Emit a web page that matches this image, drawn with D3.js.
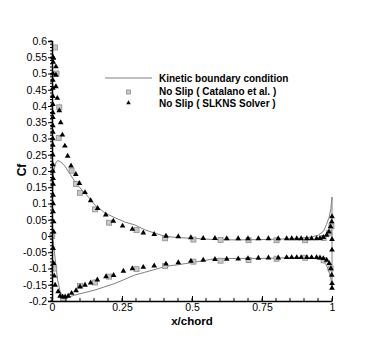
<!DOCTYPE html>
<html>
<head>
<meta charset="utf-8">
<script src="https://cdn.jsdelivr.net/npm/d3@7"></script>
<style>
  body { margin: 0; background: #fff; }
  text { font-family: "Liberation Sans", Arial, sans-serif; }
</style>
</head>
<body>
<div id="chart"></div>
<script>
// kinetic boundary condition line, upper surface LE -> TE then lower TE -> LE
const kineticX = [0, 0.002, 0.005, 0.01, 0.015, 0.02, 0.03, 0.046, 0.065, 0.082, 0.1, 0.118, 0.154, 0.189, 0.225, 0.26, 0.296, 0.332, 0.37, 0.404, 0.45, 0.5, 0.58, 0.66, 0.75, 0.83, 0.91, 0.95, 0.97, 0.98, 0.99, 0.996, 1.0,
  1.0, 0.995, 0.98, 0.96, 0.91, 0.83, 0.75, 0.66, 0.58, 0.5, 0.404, 0.33, 0.296, 0.225, 0.154, 0.081, 0.052, 0.04, 0.029, 0.02, 0.013, 0.008, 0.004, 0]
const kineticCf = [0, 0.12, 0.19, 0.215, 0.227, 0.232, 0.229, 0.215, 0.19, 0.167, 0.148, 0.132, 0.095, 0.071, 0.056, 0.043, 0.034, 0.019, 0.008, -0.001, -0.005, -0.007, -0.011, -0.012, -0.011, -0.009, -0.006, 0.002, 0.015, 0.035, 0.058, 0.085, 0.12,
  -0.156, -0.125, -0.089, -0.072, -0.066, -0.067, -0.069, -0.069, -0.07, -0.082, -0.094, -0.112, -0.12, -0.146, -0.166, -0.182, -0.19, -0.187, -0.171, -0.135, -0.084, -0.043, -0.015, 0]

// No Slip (Catalano et al.)
const catalanoX = [0.011, 0.016, 0.026, 0.024, 0.07, 0.086, 0.1, 0.154, 0.204, 0.302, 0.404, 0.505, 0.602, 0.702, 0.802, 0.904, 0.97, 0.99, 0.998,
  0.001, 0.008, 0.04, 0.1, 0.154, 0.204, 0.302, 0.404, 0.505, 0.602, 0.702, 0.802, 0.904, 0.97, 0.995]
const catalanoCf = [0.58, 0.5, 0.396, 0.302, 0.201, 0.16, 0.133, 0.082, 0.041, 0.018, -0.007, -0.011, -0.012, -0.013, -0.013, -0.013, -0.006, 0.01, 0.03,
  0.0, -0.1, -0.192, -0.154, -0.143, -0.125, -0.102, -0.092, -0.079, -0.076, -0.074, -0.07, -0.067, -0.075, -0.1]

// No Slip (SLKNS Solver)
const slknsX = [
  // leading edge, along the axis
  0.004, 0.004, 0.003, 0.003, 0.003, 0.003, 0.003, 0.003, 0.003, 0.003, 0.003, 0.003, 0.003, 0.003, 0.003, 0.003, 0.004, 0.004, 0.004, 0.004, 0.004, 0.006, 0.006,
  // upper surface
  0.005, 0.014, 0.014, 0.014, 0.019, 0.026, 0.031, 0.037, 0.046, 0.056, 0.068, 0.085, 0.098, 0.118, 0.138, 0.163, 0.192, 0.219, 0.252, 0.287, 0.326, 0.365, 0.407, 0.451, 0.496, 0.54, 0.582, 0.624, 0.665, 0.70, 0.737, 0.773, 0.808, 0.838, 0.856, 0.874, 0.89, 0.91, 0.927, 0.945, 0.957, 0.969, 0.981, 0.989, 0.995, 0.999, 1.0, 1.0,
  // lower surface
  0.004, 0.006, 0.008, 0.011, 0.022, 0.029, 0.038, 0.047, 0.058, 0.07, 0.086, 0.1, 0.118, 0.138, 0.162, 0.193, 0.22, 0.255, 0.287, 0.326, 0.365, 0.407, 0.451, 0.496, 0.54, 0.582, 0.624, 0.665, 0.70, 0.737, 0.773, 0.808, 0.838, 0.856, 0.874, 0.89, 0.91, 0.927, 0.945, 0.957, 0.969, 0.981, 0.99, 0.996, 0.999, 1.0, 1.0, 1.0]
const slknsCf = [
  0.55, 0.535, 0.50, 0.48, 0.455, 0.43, 0.405, 0.38, 0.365, 0.34, 0.32, 0.30, 0.28, 0.25, 0.22, 0.2, 0.177, 0.16, 0.126, 0.10, 0.075, 0.044, 0.013,
  0.547, 0.521, 0.495, 0.46, 0.424, 0.386, 0.349, 0.311, 0.277, 0.246, 0.216, 0.19, 0.162, 0.134, 0.109, 0.085, 0.065, 0.046, 0.031, 0.021, 0.01, 0.005, 0.0, -0.002, -0.005, -0.007, -0.007, -0.008, -0.008, -0.008, -0.008, -0.008, -0.008, -0.008, -0.008, -0.008, -0.008, -0.008, -0.008, -0.008, -0.007, -0.004, 0.003, 0.013, 0.029, 0.044, 0.06, -0.01,
  -0.038, -0.084, -0.123, -0.151, -0.171, -0.185, -0.187, -0.187, -0.185, -0.176, -0.168, -0.156, -0.151, -0.144, -0.135, -0.125, -0.121, -0.108, -0.1, -0.096, -0.092, -0.086, -0.082, -0.077, -0.074, -0.072, -0.071, -0.07, -0.069, -0.068, -0.067, -0.067, -0.066, -0.066, -0.066, -0.066, -0.066, -0.066, -0.066, -0.067, -0.069, -0.074, -0.084, -0.1, -0.12, -0.146, -0.16, -0.043]

const xTicks = [0, 0.25, 0.5, 0.75, 1]
const xTickLabels = ['0', '0.25', '0.5', '0.75', '1']
const yTicks = [-0.2, -0.15, -0.1, -0.05, 0, 0.05, 0.1, 0.15, 0.2, 0.25, 0.3, 0.35, 0.4, 0.45, 0.5, 0.55, 0.6]
const yTickLabels = ['-0.2', '-0.15', '-0.1', '-0.05', '0', '0.05', '0.1', '0.15', '0.2', '0.25', '0.3', '0.35', '0.4', '0.45', '0.5', '0.55', '0.6']
const legendLabels = ['Kinetic boundary condition', 'No Slip ( Catalano et al. )', 'No Slip ( SLKNS Solver )']

const width = 382, height = 339
const svg = d3.select('#chart').append('svg')
  .attr('width', width)
  .attr('height', height)

const x = d3.scaleLinear().domain([0, 1]).range([52, 332])
const y = d3.scaleLinear().domain([-0.2, 0.6]).range([301, 41])

// kinetic line
const line = d3.line().x(d => x(d[0])).y(d => y(d[1]))
svg.append('path')
  .attr('d', line(d3.zip(kineticX, kineticCf)))
  .style('fill', 'none')
  .style('stroke', '#808080')
  .style('stroke-width', 1)

// squares
svg.append('g').selectAll('rect')
  .data(d3.zip(catalanoX, catalanoCf))
  .join('rect')
    .attr('x', d => x(d[0]) - 2.5)
    .attr('y', d => y(d[1]) - 2.5)
    .attr('width', 5)
    .attr('height', 5)
    .style('fill', '#c8c8c8')
    .style('stroke', '#8c8c8c')
    .style('stroke-width', 0.8)

// triangles
const tri = d3.symbol().type(d3.symbolTriangle).size(14)
svg.append('g').selectAll('path')
  .data(d3.zip(slknsX, slknsCf))
  .join('path')
    .attr('transform', d => `translate(${x(d[0])},${y(d[1])})`)
    .attr('d', tri)
    .style('fill', '#000')

// y axis
const yAxis = svg.append('g')
  .attr('transform', `translate(${x(0)},0)`)
  .call(d3.axisLeft(y).tickValues(yTicks).tickSize(4).tickPadding(1)
    .tickFormat((d, i) => yTickLabels[i]))
yAxis.append('g').selectAll('line')
  .data(d3.range(-0.2, 0.6001, 0.01))
  .join('line')
    .attr('x1', -2).attr('x2', 0)
    .attr('y1', d => y(d)).attr('y2', d => y(d))
    .style('stroke', '#000')

// x axis
const xAxis = svg.append('g')
  .attr('transform', `translate(0,${y(-0.2)})`)
  .call(d3.axisBottom(x).tickValues(xTicks).tickSizeInner(-5).tickSizeOuter(0).tickPadding(4)
    .tickFormat((d, i) => xTickLabels[i]))
xAxis.append('g').selectAll('line')
  .data(d3.range(0, 1.0001, 0.05))
  .join('line')
    .attr('x1', d => x(d)).attr('x2', d => x(d))
    .attr('y1', 0).attr('y2', -3)
    .style('stroke', '#000')

svg.selectAll('.domain').style('stroke', '#000').style('stroke-width', 1.5)
svg.selectAll('.tick text').style('font-size', '10.5px').style('font-family', '"Liberation Sans", Arial, sans-serif').style('fill', '#000')
xAxis.selectAll('.tick text').attr('y', 3)

// axis titles
svg.append('text')
  .attr('x', x(0.5))
  .attr('y', 325)
  .attr('text-anchor', 'middle')
  .style('font-size', '11.5px')
  .style('font-weight', 'bold')
  .text('x/chord')

svg.append('text')
  .attr('transform', 'translate(26,170) rotate(-90)')
  .attr('text-anchor', 'middle')
  .style('font-size', '12px')
  .style('font-weight', 'bold')
  .text('Cf')

// legend
const legend = svg.append('g')
legend.append('line')
  .attr('x1', 105).attr('x2', 152)
  .attr('y1', 78).attr('y2', 78)
  .style('stroke', '#808080')
legend.append('rect')
  .attr('x', 126.5).attr('y', 90)
  .attr('width', 4).attr('height', 4)
  .style('fill', '#c8c8c8')
  .style('stroke', '#8c8c8c')
  .style('stroke-width', 0.8)
legend.append('path')
  .attr('transform', 'translate(128.5,103)')
  .attr('d', d3.symbol().type(d3.symbolTriangle).size(9))
  .style('fill', '#000')
legend.selectAll('text.lab')
  .data(legendLabels)
  .join('text')
    .attr('class', 'lab')
    .attr('x', 159)
    .attr('y', (d, i) => 82 + i * 12.5)
    .style('font-size', '10px')
    .style('font-weight', 'bold')
    .text(d => d)
</script>
</body>
</html>
